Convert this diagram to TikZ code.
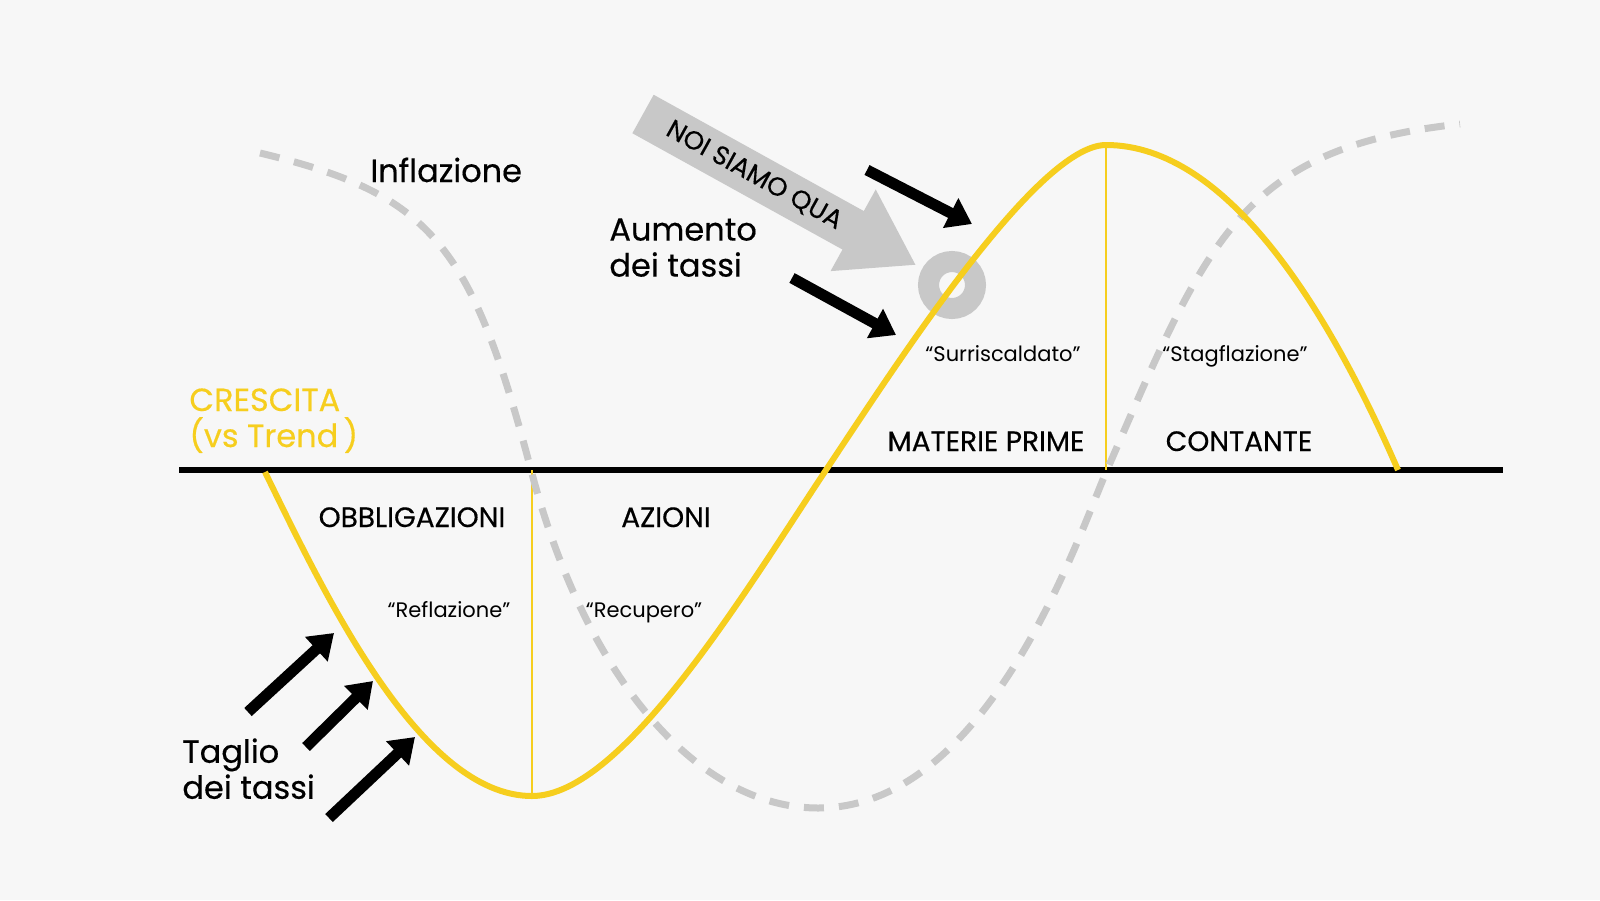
\documentclass[tikz,border=0pt]{standalone}
\usepackage{fontspec}
\setmainfont{Poppins}
\newfontfamily\medfont{Poppins}[FakeBold=0.4]
\usetikzlibrary{arrows.meta}
\definecolor{growthyellow}{RGB}{246,206,30}
\definecolor{inflgray}{RGB}{200,200,200}
\definecolor{bggray}{RGB}{247,247,247}

\begin{document}
\begin{tikzpicture}[
  x=0.5pt, y=-0.5pt,
  every node/.style={inner sep=0pt, text=black},
  lbl/.style={font=\medfont\fontsize{16}{18}\selectfont, align=left, anchor=north west},
  cls/.style={font=\medfont\fontsize{14}{15}\selectfont, anchor=base},
  phase/.style={font=\fontsize{10.5}{12}\selectfont, anchor=base},
  arr/.style={-{Triangle[length=12pt, width=16pt]}, line width=5.5pt},
  growth/.style={draw=growthyellow, line width=3pt},
  divider/.style={draw=growthyellow, line width=1.2pt},
  infl/.style={draw=inflgray, line width=3.5pt, dash pattern=on 10pt off 7.5pt},
  here/.style={-{Triangle[length=36pt, width=44pt]}, draw=inflgray, line width=22pt}
]
% Background and frame
\fill[bggray] (0,0) rectangle (1600,900);
% Trend axis and phase dividers
\coordinate (axl) at (179,470);
\coordinate (axr) at (1503,470);
\coordinate (trough) at (532,796);
\coordinate (peak) at (1106,145);
\draw[line width=3pt] (axl) -- (axr);
\draw[divider] (trough) -- (trough |- axl);
\draw[divider] (peak) -- (peak |- axl);
% Inflation cycle (dashed)
\draw[infl] (260,153) .. controls (430,194) and (471,242) .. (531,470)
  .. controls (586,679) and (698,808) .. (818,808)
  .. controls (988,808) and (1077,539) .. (1107,470)
  .. controls (1207,240) and (1240,148) .. (1460,124);
% Where we are
\coordinate (ring) at (952,285);
\draw[inflgray, line width=10.5pt] (ring) circle[radius=11.75pt];
% Growth cycle (yellow)
\draw[growth] (265,472) .. controls (325,595) and (420,796) .. (trough)
  .. controls (623,796) and (746,590) .. (826,470)
  .. controls (896,365) and (1037,145) .. (peak)
  .. controls (1227,145) and (1328,309) .. (1398,470);
% Pointer to the ring
\coordinate (herotail) at (643,114);
\draw[here, shorten >=20.5pt] (herotail) -- node[pos=0.36, sloped, font=\medfont\fontsize{13}{15}\selectfont] (noi) {NOI SIAMO QUA} (ring);
% Rate hikes and rate cuts
\coordinate (hikeA) at (867,170);  \coordinate (hikeAtip) at (972,224);
\coordinate (hikeB) at (792,278);  \coordinate (hikeBtip) at (896,335);
\coordinate (cutA) at (248,712);   \coordinate (cutAtip) at (334,633);
\coordinate (cutB) at (306,747);   \coordinate (cutBtip) at (373,681);
\coordinate (cutC) at (329,818);   \coordinate (cutCtip) at (415,737);
\draw[arr] (hikeA) -- (hikeAtip);
\draw[arr] (hikeB) -- (hikeBtip);
\draw[arr] (cutA) -- (cutAtip);
\draw[arr] (cutB) -- (cutBtip);
\draw[arr] (cutC) -- (cutCtip);
% Side labels
\node[lbl, anchor=base west] (inflazione) at (370,182) {Inflazione};
\node[lbl] (aumento) at (609,218) {Aumento\\dei tassi};
\node[lbl, text=growthyellow] (crescita) at (189,388) {CRESCITA\\(vs Trend\,)};
\node[lbl] (taglio) at (182,738) {Taglio\\dei tassi};
% Asset classes and phases
\node[cls] (obblig) at (412,527) {OBBLIGAZIONI};
\node[cls] (azioni) at (666,527) {AZIONI};
\node[cls] (materie) at (986,451) {MATERIE PRIME};
\node[cls] (contante) at (1239,451) {CONTANTE};
\node[phase] (reflazione) at (449,617) {“Reflazione”};
\node[phase] (recupero) at (644,617) {“Recupero”};
\node[phase] (surrisc) at (1003,361) {“Surriscaldato”};
\node[phase] (stagfl) at (1235,361) {“Stagflazione”};
\end{tikzpicture}
\end{document}
